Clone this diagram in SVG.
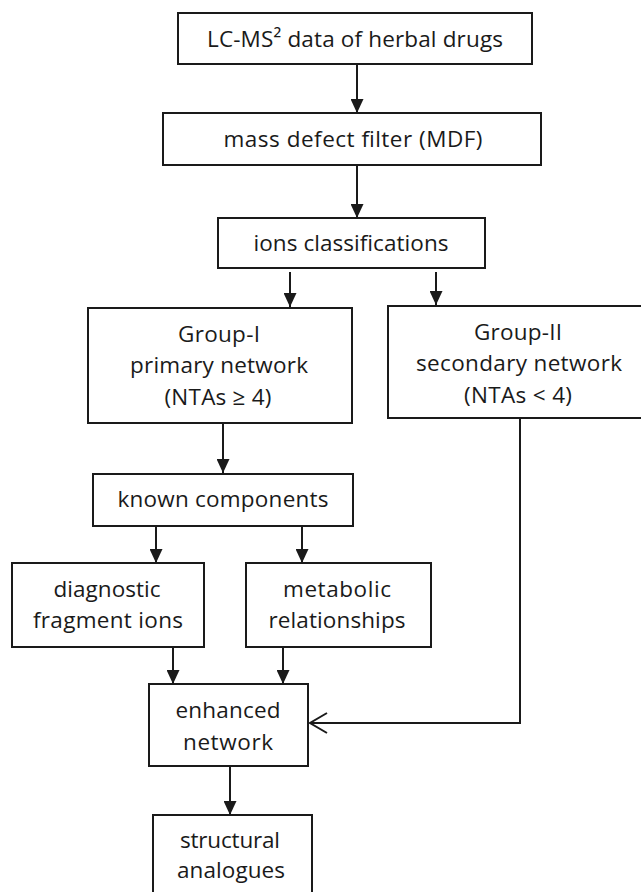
<svg xmlns="http://www.w3.org/2000/svg" width="641" height="892" viewBox="0 0 641 892">
<defs>
<style>
.box{fill:#fff;stroke:#1a1a1a;stroke-width:2}
.t{font-family:"Open Sans","Liberation Sans",sans-serif;font-size:22.5px;fill:#1a1a1a;text-anchor:middle}
.c{fill:none;stroke:#1a1a1a;stroke-width:2}
</style>
<marker id="ah" viewBox="0 0 14 13" refX="14" refY="6.5" markerWidth="14" markerHeight="13" markerUnits="userSpaceOnUse" orient="auto">
<path d="M0,0 L14,6.5 L0,13 z" fill="#1a1a1a"/>
</marker>
<marker id="oh" viewBox="-1 -1 19 22" refX="17" refY="10" markerWidth="19" markerHeight="22" markerUnits="userSpaceOnUse" orient="auto" overflow="visible">
<path d="M0,0 L17,10 L0,20" fill="none" stroke="#1a1a1a" stroke-width="2"/>
</marker>
</defs>
<rect width="641" height="892" fill="#fff"/>
<g id="connectors">
<line class="c" x1="357" y1="64" x2="357" y2="113" marker-end="url(#ah)"/>
<line class="c" x1="357" y1="165" x2="357" y2="218" marker-end="url(#ah)"/>
<line class="c" x1="290" y1="272" x2="290" y2="307" marker-end="url(#ah)"/>
<line class="c" x1="436" y1="272" x2="436" y2="305" marker-end="url(#ah)"/>
<line class="c" x1="223" y1="423" x2="223" y2="473" marker-end="url(#ah)"/>
<line class="c" x1="156" y1="526" x2="156" y2="563" marker-end="url(#ah)"/>
<line class="c" x1="302" y1="526" x2="302" y2="563" marker-end="url(#ah)"/>
<line class="c" x1="173" y1="647" x2="173" y2="684" marker-end="url(#ah)"/>
<line class="c" x1="283" y1="647" x2="283" y2="684" marker-end="url(#ah)"/>
<polyline class="c" points="520,418 520,723 310,723" marker-end="url(#oh)"/>
<line class="c" x1="230" y1="766" x2="230" y2="815" marker-end="url(#ah)"/>
</g>
<g id="n1"><rect class="box" x="178" y="13" width="354" height="51"/>
<text class="t" x="355" y="47" textLength="296" lengthAdjust="spacing">LC-MS² data of herbal drugs</text></g>
<g id="n2"><rect class="box" x="163" y="113" width="378" height="52"/>
<text class="t" x="353" y="147" textLength="259" lengthAdjust="spacing">mass defect filter (MDF)</text></g>
<g id="n3"><rect class="box" x="218" y="218" width="267" height="50"/>
<text class="t" x="351" y="251" textLength="195" lengthAdjust="spacing">ions classifications</text></g>
<g id="n4"><rect class="box" x="88" y="308" width="264" height="115"/>
<text class="t" x="219" y="342" textLength="82" lengthAdjust="spacing">Group-I</text>
<text class="t" x="219" y="373" textLength="178" lengthAdjust="spacing">primary network</text>
<text class="t" x="218" y="405" textLength="107" lengthAdjust="spacing">(NTAs ≥ 4)</text></g>
<g id="n5"><rect class="box" x="388" y="306" width="262" height="112"/>
<text class="t" x="518" y="340" textLength="88" lengthAdjust="spacing">Group-II</text>
<text class="t" x="519" y="371" textLength="206" lengthAdjust="spacing">secondary network</text>
<text class="t" x="518" y="403" textLength="108" lengthAdjust="spacing">(NTAs &lt; 4)</text></g>
<g id="n6"><rect class="box" x="93" y="474" width="260" height="52"/>
<text class="t" x="223" y="507" textLength="211" lengthAdjust="spacing">known components</text></g>
<g id="n7"><rect class="box" x="12" y="563" width="192" height="84"/>
<text class="t" x="107" y="597" textLength="107" lengthAdjust="spacing">diagnostic</text>
<text class="t" x="108" y="628" textLength="150" lengthAdjust="spacing">fragment ions</text></g>
<g id="n8"><rect class="box" x="246" y="563" width="185" height="84"/>
<text class="t" x="337" y="597" textLength="108" lengthAdjust="spacing">metabolic</text>
<text class="t" x="337" y="628" textLength="137" lengthAdjust="spacing">relationships</text></g>
<g id="n9"><rect class="box" x="149" y="684" width="159" height="82"/>
<text class="t" x="228" y="718" textLength="105" lengthAdjust="spacing">enhanced</text>
<text class="t" x="228" y="750" textLength="90" lengthAdjust="spacing">network</text></g>
<g id="n10"><rect class="box" x="153" y="815" width="159" height="90"/>
<text class="t" x="230" y="848" textLength="100" lengthAdjust="spacing">structural</text>
<text class="t" x="231" y="878" textLength="108" lengthAdjust="spacing">analogues</text></g>
</svg>
